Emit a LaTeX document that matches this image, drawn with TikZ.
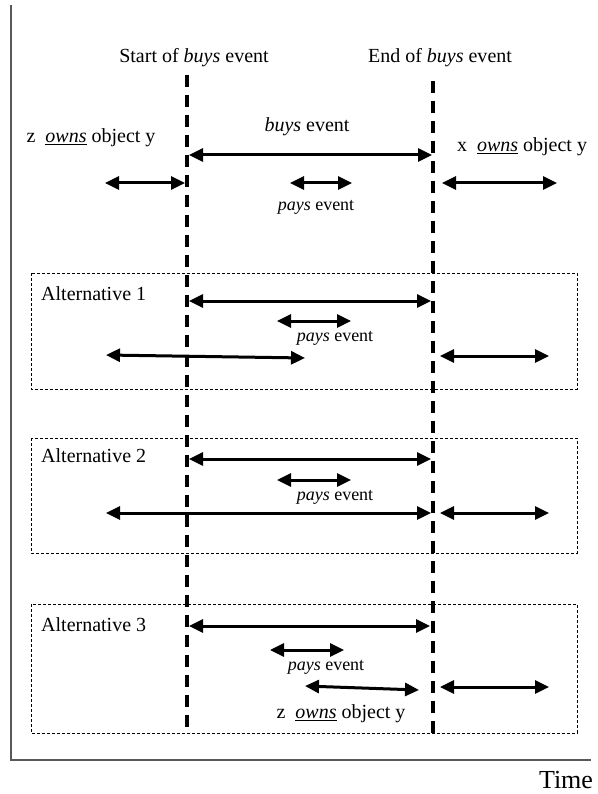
\documentclass[tikz,border=0pt]{standalone}
\usepackage{fontspec}
\setmainfont{Liberation Serif}
\usetikzlibrary{arrows.meta}
\begin{document}
\begin{tikzpicture}[x=1pt,y=-1pt,
  lbl/.style={inner sep=0pt,font=\fontsize{20}{24}\selectfont},
  smalllbl/.style={inner sep=0pt,font=\fontsize{18}{22}\selectfont},
  span/.style={line width=3pt,{Triangle[length=14pt,width=13pt]}-{Triangle[length=14pt,width=13pt]}},
  boundary/.style={line width=3.6pt,dash pattern=on 12pt off 8pt},
  altbox/.style={draw,line width=0.8pt,dash pattern=on 3pt off 2pt},
  axis/.style={line width=1.3pt,draw=black!65}]
\useasboundingbox (0,0) rectangle (597,794);
% axes
\coordinate (axtop) at (11,5);
\coordinate (axorig) at (11,760);
\coordinate (axright) at (591,760);
\draw[axis] (axtop) -- (axorig) -- (axright);
\node[inner sep=0pt,font=\fontsize{26}{30}\selectfont] (time) at (566,780) {Time};
% boundaries
\coordinate (s0) at (187,75);
\coordinate (s1) at (187,728);
\coordinate (e0) at (433,81);
\coordinate (e1) at (433,734);
\draw[boundary] (s0) -- (s1);
\draw[boundary] (e0) -- (e1);
\node[lbl] (start) at (194,58) {Start of \textit{buys} event};
\node[lbl] (end) at (440,58) {End of \textit{buys} event};
% top section
\node[lbl] (buyslbl) at (307,127) {\textit{buys} event};
\node[lbl] (zown) at (91,138) {z~~\underline{\textit{owns}} object y};
\node[lbl] (xown) at (522,147) {x~~\underline{\textit{owns}} object y};
\coordinate (b0) at (189,155); \coordinate (b1) at (432,155);
\draw[span] (b0) -- (b1);
\coordinate (z0) at (105,183); \coordinate (z1) at (185,183);
\draw[span] (z0) -- (z1);
\coordinate (p0) at (290,183); \coordinate (p1) at (352,183);
\draw[span] (p0) -- (p1);
\node[smalllbl] (payslbl) at (316,207) {\textit{pays} event};
\coordinate (x0) at (442,183); \coordinate (x1) at (557,183);
\draw[span] (x0) -- (x1);
% Alternative 1
\coordinate (a1tl) at (31,273); \coordinate (a1br) at (577,389);
\draw[altbox] (a1tl) rectangle (a1br);
\node[lbl,anchor=west] (alt1) at (41,294) {Alternative 1};
\coordinate (a1b0) at (189,301); \coordinate (a1b1) at (431,301);
\draw[span] (a1b0) -- (a1b1);
\coordinate (a1p0) at (277,321); \coordinate (a1p1) at (351,321);
\draw[span] (a1p0) -- (a1p1);
\node[smalllbl] (a1pays) at (335,338) {\textit{pays} event};
\coordinate (a1z0) at (106,355); \coordinate (a1z1) at (305,358);
\draw[span] (a1z0) -- (a1z1);
\coordinate (a1x0) at (440,356); \coordinate (a1x1) at (549,356);
\draw[span] (a1x0) -- (a1x1);
% Alternative 2
\coordinate (a2tl) at (31,438); \coordinate (a2br) at (577,553);
\draw[altbox] (a2tl) rectangle (a2br);
\node[lbl,anchor=west] (alt2) at (41,456) {Alternative 2};
\coordinate (a2b0) at (189,459); \coordinate (a2b1) at (431,459);
\draw[span] (a2b0) -- (a2b1);
\coordinate (a2p0) at (277,480); \coordinate (a2p1) at (351,480);
\draw[span] (a2p0) -- (a2p1);
\node[smalllbl] (a2pays) at (335,497) {\textit{pays} event};
\coordinate (a2z0) at (106,513); \coordinate (a2z1) at (431,513);
\draw[span] (a2z0) -- (a2z1);
\coordinate (a2x0) at (440,513); \coordinate (a2x1) at (549,513);
\draw[span] (a2x0) -- (a2x1);
% Alternative 3
\coordinate (a3tl) at (31,604); \coordinate (a3br) at (577,733);
\draw[altbox] (a3tl) rectangle (a3br);
\node[lbl,anchor=west] (alt3) at (41,625) {Alternative 3};
\coordinate (a3b0) at (189,626); \coordinate (a3b1) at (430,626);
\draw[span] (a3b0) -- (a3b1);
\coordinate (a3p0) at (270,650); \coordinate (a3p1) at (344,650);
\draw[span] (a3p0) -- (a3p1);
\node[smalllbl] (a3pays) at (326,667) {\textit{pays} event};
\coordinate (a3z0) at (305,686); \coordinate (a3z1) at (419,690);
\draw[span] (a3z0) -- (a3z1);
\node[lbl] (a3zown) at (341,714) {z~~\underline{\textit{owns}} object y};
\coordinate (a3x0) at (440,687); \coordinate (a3x1) at (549,687);
\draw[span] (a3x0) -- (a3x1);
\end{tikzpicture}
\end{document}
